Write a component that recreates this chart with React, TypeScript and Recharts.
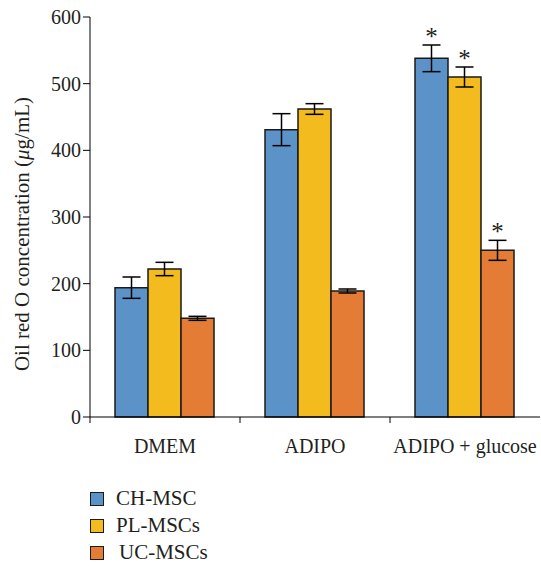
import { Bar, BarChart, ErrorBar, LabelList, XAxis, YAxis } from "recharts"

const categories = ["DMEM", "ADIPO", "ADIPO + glucose"]

const chValues = [194, 431, 538]
const chErrors = [16, 24, 20]
const plValues = [222, 462, 510]
const plErrors = [10, 8, 15]
const ucValues = [148, 189, 250]
const ucErrors = [3, 3, 15]

// significance marks (asterisk above the error bar)
const chStars = [false, false, true]
const plStars = [false, false, true]
const ucStars = [false, false, true]

const yTicks = [0, 100, 200, 300, 400, 500, 600]

const series = [
    { key: "ch", name: "CH-MSC", color: "#5b93c9", stars: chStars, errors: chErrors },
    { key: "pl", name: "PL-MSCs", color: "#f4bb1f", stars: plStars, errors: plErrors },
    { key: "uc", name: "UC-MSCs", color: "#e57c36", stars: ucStars, errors: ucErrors },
]

const data = categories.map((name, i) => ({
    name,
    ch: chValues[i],
    chErr: chErrors[i],
    pl: plValues[i],
    plErr: plErrors[i],
    uc: ucValues[i],
    ucErr: ucErrors[i],
}))

const FONT = "'Liberation Serif', 'DejaVu Serif', serif"
const TEXT = "#231f20"

function XTick(props: any) {
    const { x, y, payload } = props
    const half = payload?.offset ?? 75
    return (
        <g>
            <line x1={x - half} x2={x - half} y1={y - 8} y2={y - 2} stroke="#000" strokeWidth={1} />
            <text x={x} y={y + 28} textAnchor="middle" fontFamily={FONT} fontSize={20} fill={TEXT}>
                {payload.value}
            </text>
        </g>
    )
}

function makeStar(stars: boolean[], errors: number[]) {
    return (props: any) => {
        const { x, y, width, height, value, index } = props
        if (!stars[index] || !value) return null
        const pxPerUnit = height / value
        const top = y - errors[index] * pxPerUnit
        return (
            <text x={x + width / 2} y={top} textAnchor="middle" fontFamily={FONT} fontSize={25} fill={TEXT}>
                *
            </text>
        )
    }
}

function YLabel(props: any) {
    const { viewBox } = props
    const cy = viewBox.y + viewBox.height / 2 + 17
    const cx = 29
    return (
        <text
            x={cx}
            y={cy}
            transform={`rotate(-90, ${cx}, ${cy})`}
            textAnchor="middle"
            fontFamily={FONT}
            fontSize={21}
            fill={TEXT}
        >
            Oil red O concentration (<tspan fontStyle="italic">μ</tspan>g/mL)
        </text>
    )
}

export default function App() {
    return (
        <div style={{ position: "absolute", left: 0, top: 0, width: 541, height: 567, background: "#fff" }}>
            <BarChart
                width={541}
                height={567}
                data={data}
                margin={{ top: 17, right: 1, left: 0, bottom: 110 }}
                barCategoryGap="16.67%"
                barGap={0}
            >
                <XAxis
                    dataKey="name"
                    height={40}
                    axisLine={{ stroke: "#000", strokeWidth: 1 }}
                    tickLine={false}
                    tick={<XTick />}
                    interval={0}
                />
                <YAxis
                    width={90}
                    domain={[0, 600]}
                    ticks={yTicks}
                    axisLine={{ stroke: "#000", strokeWidth: 1 }}
                    tickLine={{ stroke: "#000", strokeWidth: 1 }}
                    tickSize={7}
                    tick={{ fontFamily: FONT, fontSize: 20, fill: TEXT }}
                    label={<YLabel />}
                />
                {series.map((s) => (
                    <Bar
                        key={s.key}
                        dataKey={s.key}
                        name={s.name}
                        fill={s.color}
                        stroke="#1a1a1a"
                        strokeWidth={1.5}
                        isAnimationActive={false}
                    >
                        <ErrorBar dataKey={`${s.key}Err`} width={9} stroke="#000" strokeWidth={1.5} direction="y" />
                        <LabelList dataKey={s.key} content={makeStar(s.stars, s.errors)} />
                    </Bar>
                ))}
            </BarChart>
            <div style={{ position: "absolute", left: 90, top: 485, fontFamily: FONT, fontSize: 21, color: TEXT }}>
                {series.map((s, i) => (
                    <div key={s.key} style={{ display: "flex", alignItems: "center", height: 27 }}>
                        <span
                            style={{
                                display: "inline-block",
                                width: 12,
                                height: 12,
                                background: s.color,
                                border: "1.5px solid #1a1a1a",
                                marginRight: i === 2 ? 15 : 12,
                            }}
                        />
                        <span>{s.name}</span>
                    </div>
                ))}
            </div>
        </div>
    )
}
